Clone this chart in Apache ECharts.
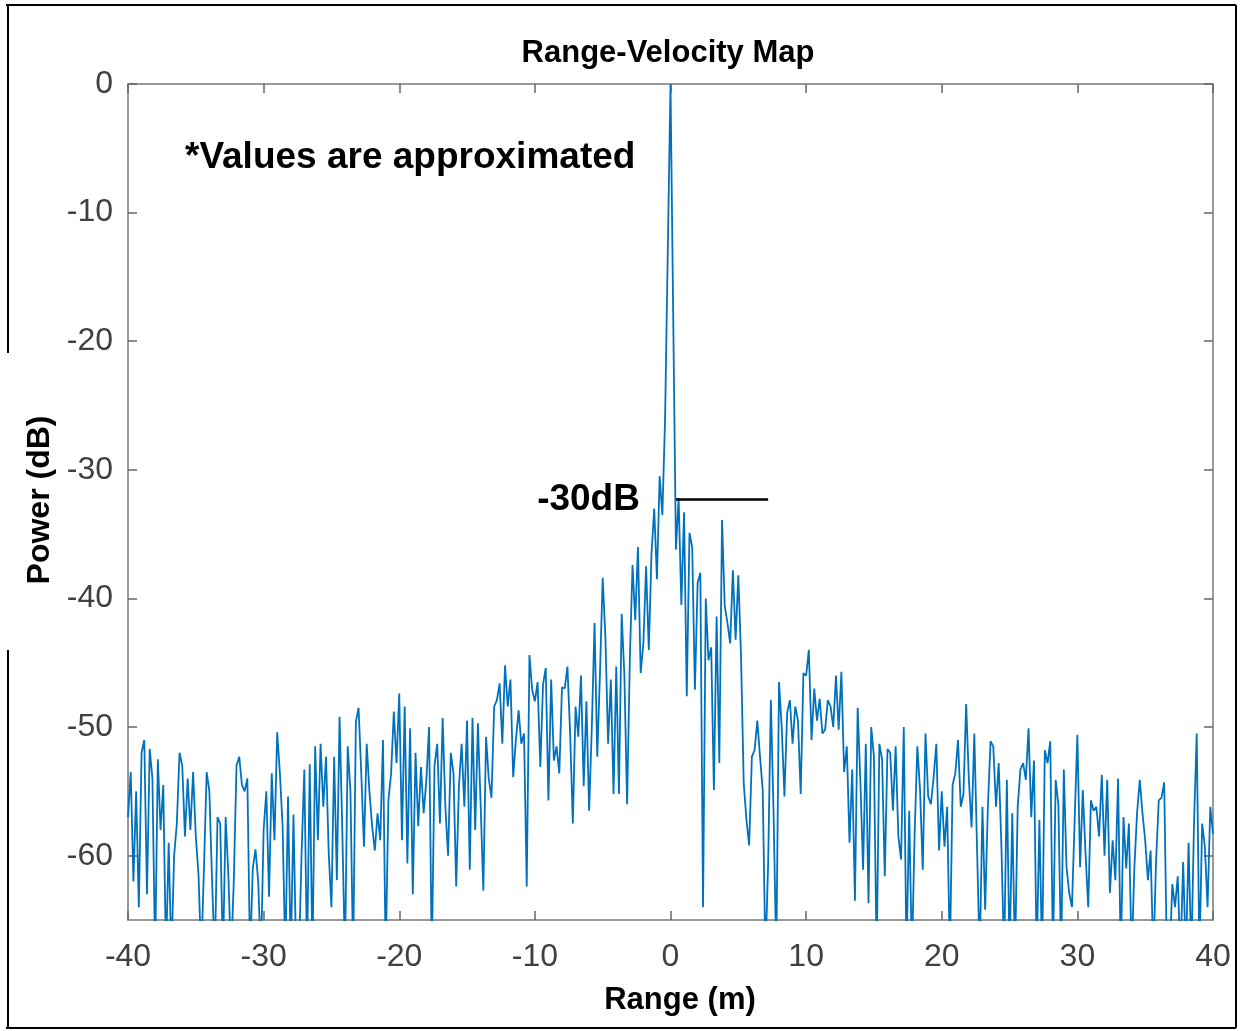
<!DOCTYPE html>
<html>
<head>
<meta charset="utf-8">
<script src="https://cdn.jsdelivr.net/npm/echarts@6/dist/echarts.min.js"></script>
<style>
html,body{margin:0;padding:0;background:#fff;}
#chart{width:1241px;height:1031px;}
</style>
</head>
<body>
<div id="chart"></div>
<script>
// ---- data (0.2 m sampling) ----
var rangeStart = -40, rangeStep = 0.2;
var powerA = [ // -40 .. -30.2
  -57,-53.5,-62,-55,-64,-52,-51,-63,-51.7,-54,
  -68,-52.5,-58,-54.5,-68,-59,-68,-60,-57.5,-52,
  -53,-58.5,-54,-58,-53.5,-58.5,-61.5,-68,-61,-53.5,
  -55,-62,-68,-57,-57.5,-68,-57,-61.5,-68,-62,
  -53,-52.3,-54.5,-55,-54,-68,-61,-59.5,-62,-68
];
var powerB = [ // -30 .. -20.2
  -58,-55,-63.2,-53.6,-58.8,-50.4,-53.6,-57.7,-68,-55.4,
  -68,-56.8,-68,-68,-59.8,-53.3,-68,-52.9,-68,-51.5,
  -58.8,-51.3,-56.2,-52.3,-59.8,-64,-52.3,-61.9,-49.2,-58,
  -68,-51.5,-55,-68,-49.6,-48.5,-53.6,-59.3,-51.3,-55,
  -57.7,-59.6,-56.7,-58.8,-51.0,-68,-55.7,-53.6,-48.8,-52.8
];
var powerC = [ // -20 .. -10.2
  -47.4,-58.8,-48.4,-60.6,-50.1,-63,-52,-57.7,-53.1,-56.7,
  -54.1,-50.0,-68,-53,-51.3,-57.5,-49.3,-56.2,-60,-52.0,
  -53.6,-62.4,-54.6,-51.3,-56.2,-49.5,-61.1,-49.3,-58,-49.7,
  -56,-62.7,-50.75,-54,-55.5,-48.4,-47.9,-46.6,-51.3,-45.2,
  -48.4,-46.3,-53.9,-51.0,-48.7,-51.3,-50.5,-62.4,-44.4,-47.1
];
var powerD = [ // -10 .. -0.2
  -48,-46.5,-53.1,-46.7,-45.4,-55.7,-46.3,-52.6,-51.5,-53.6,
  -46.9,-47.0,-45.3,-50.5,-57.5,-48.4,-50.75,-46.0,-54.6,-48.0,
  -56.5,-50.0,-41.9,-52.3,-45.8,-38.4,-43.0,-51.3,-46.3,-55.2,
  -45.3,-55.2,-41.2,-46,-56.0,-44.8,-37.4,-41.7,-36,-45.8,
  -43.5,-37.5,-44,-36.5,-33,-38.5,-30.5,-33.5,-26,-13
];
var powerE = [ // 0 .. 9.8
  0,-18,-36.2,-32.2,-40.5,-33.3,-47.6,-34.9,-36.0,-47.1,
  -38.8,-38.0,-64,-40,-44.8,-43.8,-54.9,-41.4,-52.8,-33.9,
  -40.6,-41.9,-43.5,-37.8,-43.2,-38.2,-44.5,-54.4,-57.2,-59.2,
  -52.3,-51.8,-49.5,-52.3,-54.9,-68,-60.6,-47.9,-56.7,-68,
  -46.5,-50.0,-55.4,-48.9,-47.9,-51.3,-48.4,-49.5,-55.2,-45.8
];
var powerF = [ // 10 .. 19.8
  -46,-44.0,-51,-47.0,-49.5,-47.8,-50.5,-50.2,-47.9,-48.4,
  -50,-46,-50.2,-45.7,-53.5,-51.5,-59,-53.3,-63.5,-48.5,
  -54.2,-61.1,-51.3,-63.7,-50,-52.3,-68,-51.3,-52.5,-61.6,
  -51.7,-52.0,-56.5,-51.5,-58.5,-60.3,-50,-68,-56.5,-68,
  -58.3,-51.5,-54.9,-61.1,-50.5,-55.4,-56.0,-53.9,-51.3,-59.6
];
var powerG = [ // 20 .. 29.8
  -55,-59.3,-56.2,-68,-54.5,-53.6,-51.0,-56.2,-55.2,-48.2,
  -54.1,-57.8,-50.5,-59.3,-68,-56.2,-64.2,-56.2,-51.1,-51.5,
  -56.2,-52.8,-59.3,-68,-54.1,-68,-56.7,-68,-56.2,-53.3,
  -52.8,-54.1,-50.1,-57.0,-52.6,-68,-57.2,-68,-51.8,-52.8,
  -51.1,-68,-54.1,-56,-68,-53.3,-60.9,-62.9,-64.0,-57.2
];
var powerH = [ // 30 .. 40
  -50.6,-60.9,-54.9,-59.8,-64.0,-55.7,-56.5,-56.2,-58.5,-53.7,
  -60,-54.1,-62.9,-58.8,-61.9,-54,-68,-57,-61,-57.5,
  -68,-61,-56.7,-54.1,-56.7,-58.8,-61.9,-59.6,-68,-60.5,
  -55.7,-55.5,-54.3,-68,-68,-62.2,-64,-61.6,-68,-60.5,
  -68,-59.0,-68,-57.5,-50.5,-68,-57.5,-59.3,-64,-56.2,
  -58.3
];
var xTicks = [-40,-30,-20,-10,0,10,20,30,40];
var yTicks = [0,-10,-20,-30,-40,-50,-60];
var refLevel = -32.3;          // "-30dB" marker level
var refRange = [0.4, 7.2];     // marker extent along range

var power = [].concat(powerA, powerB, powerC, powerD, powerE, powerF, powerG, powerH);
var seriesData = power.map(function (v, i) {
  return [Math.round((rangeStart + i * rangeStep) * 10) / 10, v];
});

var FONT = '"Liberation Sans", Arial, Helvetica, sans-serif';
var axisGray = '#999999';
var tickGray = '#666666';
var labelCol = '#404040';

var chart = echarts.init(document.getElementById('chart'), null, {renderer: 'canvas'});
var option = {
  animation: false,
  backgroundColor: '#ffffff',
  grid: {left: 128, right: 28, top: 84, bottom: 111, containLabel: false},
  xAxis: [{
    type: 'value', min: -40, max: 40, interval: 10, position: 'bottom',
    axisLine: {show: true, onZero: false, lineStyle: {color: axisGray, width: 2}},
    axisTick: {show: true, inside: true, length: 9, lineStyle: {color: tickGray, width: 1.5}},
    axisLabel: {show: true, margin: 21, fontSize: 32, color: labelCol, fontFamily: FONT,
      customValues: xTicks},
    splitLine: {show: false}
  }, {
    type: 'value', min: -40, max: 40, interval: 10, position: 'top',
    axisLine: {show: true, onZero: false, lineStyle: {color: axisGray, width: 2}},
    axisTick: {show: true, inside: true, length: 9, lineStyle: {color: tickGray, width: 1.5}},
    axisLabel: {show: false},
    splitLine: {show: false}
  }],
  yAxis: [{
    type: 'value', min: -65, max: 0, position: 'left',
    axisLine: {show: true, onZero: false, lineStyle: {color: axisGray, width: 2}},
    axisTick: {show: true, inside: true, length: 9, customValues: yTicks,
      lineStyle: {color: tickGray, width: 1.5}},
    axisLabel: {show: true, margin: 15, fontSize: 32, color: labelCol, fontFamily: FONT,
      customValues: yTicks},
    splitLine: {show: false}
  }, {
    type: 'value', min: -65, max: 0, position: 'right',
    axisLine: {show: true, onZero: false, lineStyle: {color: axisGray, width: 2}},
    axisTick: {show: true, inside: true, length: 9, customValues: yTicks,
      lineStyle: {color: tickGray, width: 1.5}},
    axisLabel: {show: false},
    splitLine: {show: false}
  }],
  series: [{
    type: 'line',
    xAxisIndex: 0, yAxisIndex: 0,
    data: seriesData,
    showSymbol: false,
    symbol: 'none',
    clip: true,
    lineStyle: {color: '#0072BD', width: 1.8},
    itemStyle: {color: '#0072BD'},
    z: 3,
    markLine: {
      silent: true,
      symbol: ['none', 'none'],
      lineStyle: {color: '#000', width: 2.5, type: 'solid'},
      label: {
        show: true, position: 'start', distance: 36,
        formatter: '-30dB', color: '#000', fontSize: 37, fontWeight: 'bold', fontFamily: FONT
      },
      data: [[{coord: [refRange[0], refLevel]}, {coord: [refRange[1], refLevel]}]]
    }
  }],
  graphic: [
    {type: 'text', x: 668, y: 53, style: {text: 'Range-Velocity Map', font: 'bold 31px ' + FONT,
      fill: '#000', textAlign: 'center', textVerticalAlign: 'middle'}},
    {type: 'text', x: 185, y: 158, style: {text: '*Values are approximated', font: 'bold 37px ' + FONT,
      fill: '#000', textAlign: 'left', textVerticalAlign: 'middle'}},
    {type: 'text', x: 40, y: 500, rotation: Math.PI / 2, style: {text: 'Power (dB)', font: 'bold 32px ' + FONT,
      fill: '#000', textAlign: 'center', textVerticalAlign: 'middle'}},
    {type: 'text', x: 680, y: 1000, style: {text: 'Range (m)', font: 'bold 31px ' + FONT,
      fill: '#000', textAlign: 'center', textVerticalAlign: 'middle'}},
    // outer frame
    {type: 'line', shape: {x1: 6, y1: 5, x2: 1236, y2: 5}, style: {stroke: '#000', lineWidth: 2}},
    {type: 'line', shape: {x1: 1236, y1: 5, x2: 1236, y2: 1028}, style: {stroke: '#000', lineWidth: 2}},
    {type: 'line', shape: {x1: 6, y1: 1028, x2: 1236, y2: 1028}, style: {stroke: '#000', lineWidth: 2}},
    {type: 'line', shape: {x1: 8, y1: 5, x2: 8, y2: 353}, style: {stroke: '#000', lineWidth: 2}},
    {type: 'line', shape: {x1: 8, y1: 650, x2: 8, y2: 1028}, style: {stroke: '#000', lineWidth: 2}}
  ]
};
chart.setOption(option);
</script>
</body>
</html>
